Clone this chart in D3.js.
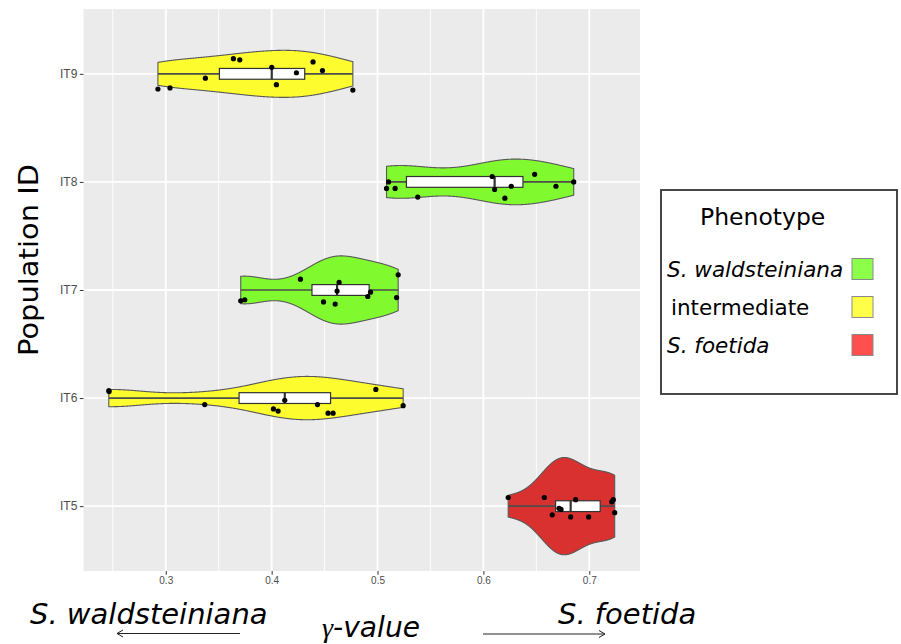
<!DOCTYPE html>
<html>
<head>
<meta charset="utf-8">
<script src="https://cdn.jsdelivr.net/npm/d3@7"></script>
<style>
  body { margin: 0; background: #fff; }
  svg { display: block; }
</style>
</head>
<body>
<svg id="chart" width="901" height="644"></svg>
<script>
// Populations, top to bottom, and their phenotype class
const populations = ["IT9", "IT8", "IT7", "IT6", "IT5"];
const populationPhenotype = ["intermediate", "S. waldsteiniana", "S. waldsteiniana", "intermediate", "S. foetida"];

// gamma-values per population (11 plants each) and the vertical jitter of each dot (category units)
const gammaIT9 = [0.2926, 0.3040, 0.3374, 0.3639, 0.3699, 0.4001, 0.4045, 0.4234, 0.4391, 0.4480, 0.4767];
const jitterIT9 = [-0.14, -0.13, -0.04, 0.14, 0.13, 0.06, -0.10, 0.01, 0.11, 0.03, -0.15];
const gammaIT8 = [0.5104, 0.5085, 0.5166, 0.5380, 0.6083, 0.6106, 0.6203, 0.6263, 0.6484, 0.6685, 0.6853];
const jitterIT8 = [0.00, -0.06, -0.06, -0.14, 0.05, -0.07, -0.15, -0.04, 0.07, -0.04, 0.00];
const gammaIT7 = [0.3708, 0.3746, 0.4272, 0.4490, 0.4600, 0.4618, 0.4637, 0.4908, 0.4934, 0.5180, 0.5195];
const jitterIT7 = [-0.10, -0.09, 0.10, -0.11, -0.13, -0.01, 0.07, -0.06, -0.02, -0.07, 0.14];
const gammaIT6 = [0.2462, 0.2465, 0.3368, 0.4017, 0.4061, 0.4124, 0.4433, 0.4533, 0.4580, 0.4984, 0.5242];
const jitterIT6 = [0.07, 0.06, -0.06, -0.10, -0.12, -0.02, -0.06, -0.14, -0.14, 0.08, -0.07];
const gammaIT5 = [0.6234, 0.6575, 0.6650, 0.6714, 0.6733, 0.6824, 0.6871, 0.6994, 0.7212, 0.7227, 0.7240];
const jitterIT5 = [0.08, 0.08, -0.08, -0.02, -0.03, -0.10, 0.06, -0.10, 0.04, 0.06, -0.06];

const gammaByPop = [gammaIT9, gammaIT8, gammaIT7, gammaIT6, gammaIT5];
const jitterByPop = [jitterIT9, jitterIT8, jitterIT7, jitterIT6, jitterIT5];

// Legend classes
const phenotypes = ["S. waldsteiniana", "intermediate", "S. foetida"];
const phenotypeItalic = [true, false, true];
const violinFill = ["#80f92f", "#fcfc2e", "#d93030"];
const legendFill = ["#8cff4a", "#ffff4a", "#ff4f4f"];

// Axis ticks
const xMajorTicks = [0.3, 0.4, 0.5, 0.6, 0.7];
const xMinorTicks = [0.25, 0.35, 0.45, 0.55, 0.65, 0.75];

// ---- layout ----
const panel = { left: 83.5, right: 640, top: 9, bottom: 571 };
const svg = d3.select("#chart");

const allValues = gammaByPop.flat();
const [vmin, vmax] = d3.extent(allValues);
const pad = (vmax - vmin) * 0.05;
const x = d3.scaleLinear().domain([vmin - pad, vmax + pad]).range([panel.left, panel.right]);
const y = d3.scalePoint().domain(populations).range([panel.top, panel.bottom]).padding(0.6);
const step = y.step();
const fillOf = p => violinFill[phenotypes.indexOf(p)];

// panel background and grid
svg.append("rect")
  .attr("x", panel.left).attr("y", panel.top)
  .attr("width", panel.right - panel.left).attr("height", panel.bottom - panel.top)
  .attr("fill", "#ebebeb");

const grid = svg.append("g");
grid.selectAll(".minor").data(xMinorTicks.filter(t => x(t) > panel.left && x(t) < panel.right)).join("line")
  .attr("x1", d => x(d)).attr("x2", d => x(d))
  .attr("y1", panel.top).attr("y2", panel.bottom)
  .attr("stroke", "#fff").attr("stroke-width", 0.9);
grid.selectAll(".major").data(xMajorTicks).join("line")
  .attr("x1", d => x(d)).attr("x2", d => x(d))
  .attr("y1", panel.top).attr("y2", panel.bottom)
  .attr("stroke", "#fff").attr("stroke-width", 1.8);
grid.selectAll(".hmajor").data(populations).join("line")
  .attr("x1", panel.left).attr("x2", panel.right)
  .attr("y1", d => y(d)).attr("y2", d => y(d))
  .attr("stroke", "#fff").attr("stroke-width", 1.8);

// ---- violin densities (gaussian kernel, Silverman bandwidth, trimmed to data range) ----
function bandwidth(vals) {
  const s = vals.slice().sort(d3.ascending);
  const sd = d3.deviation(s);
  const iqr = d3.quantile(s, 0.75) - d3.quantile(s, 0.25);
  const lo = Math.min(sd, iqr / 1.34);
  return 0.9 * lo * Math.pow(s.length, -0.2);
}
function density(vals) {
  const bw = bandwidth(vals);
  const [a, b] = d3.extent(vals);
  const n = 512;
  const pts = [];
  for (let i = 0; i < n; i++) {
    const g = a + (b - a) * i / (n - 1);
    let sum = 0;
    for (const v of vals) {
      const u = (g - v) / bw;
      sum += Math.exp(-0.5 * u * u);
    }
    pts.push([g, sum / (vals.length * bw * Math.sqrt(2 * Math.PI))]);
  }
  return pts;
}
const densities = gammaByPop.map(density);
const maxDensity = d3.max(densities, d => d3.max(d, p => p[1]));
const halfWidth = d3.scaleLinear().domain([0, maxDensity]).range([0, 0.45 * step]);

const violins = svg.append("g");
populations.forEach((pop, i) => {
  const cy = y(pop);
  const area = d3.area()
    .x(p => x(p[0]))
    .y0(p => cy - halfWidth(p[1]))
    .y1(p => cy + halfWidth(p[1]));
  violins.append("path")
    .attr("d", area(densities[i]))
    .attr("fill", fillOf(populationPhenotype[i]))
    .attr("stroke", "#595959")
    .attr("stroke-width", 1.1);
});

// ---- boxplots ----
const boxes = svg.append("g");
populations.forEach((pop, i) => {
  const s = gammaByPop[i].slice().sort(d3.ascending);
  const q1 = d3.quantile(s, 0.25), med = d3.quantile(s, 0.5), q3 = d3.quantile(s, 0.75);
  const iqr = q3 - q1;
  const wLo = d3.min(s.filter(v => v >= q1 - 1.5 * iqr));
  const wHi = d3.max(s.filter(v => v <= q3 + 1.5 * iqr));
  const cy = y(pop), bh = 0.05 * step;
  boxes.append("line")
    .attr("x1", x(wLo)).attr("x2", x(wHi)).attr("y1", cy).attr("y2", cy)
    .attr("stroke", "#4d4d4d").attr("stroke-width", 1.6);
  boxes.append("rect")
    .attr("x", x(q1)).attr("y", cy - bh)
    .attr("width", x(q3) - x(q1)).attr("height", 2 * bh)
    .attr("fill", "#fff").attr("stroke", "#333").attr("stroke-width", 1.2);
  boxes.append("line")
    .attr("x1", x(med)).attr("x2", x(med)).attr("y1", cy - bh).attr("y2", cy + bh)
    .attr("stroke", "#333").attr("stroke-width", 2.2);
});

// ---- jittered plants ----
const dots = svg.append("g");
populations.forEach((pop, i) => {
  dots.selectAll(null).data(gammaByPop[i].map((v, j) => [v, jitterByPop[i][j]])).join("circle")
    .attr("cx", d => x(d[0]))
    .attr("cy", d => y(pop) - d[1] * step)
    .attr("r", 2.6)
    .attr("fill", "#000");
});

// ---- axes ----
const xAxis = svg.append("g")
  .attr("transform", `translate(0,${panel.bottom})`)
  .call(d3.axisBottom(x).tickValues(xMajorTicks).tickFormat(d3.format(".1f")).tickSize(3.7).tickPadding(2));
xAxis.select(".domain").remove();
xAxis.selectAll("line").attr("stroke", "#333").attr("stroke-width", 1);
xAxis.selectAll("text").attr("fill", "#4d4d4d")
  .style("font-family", "'Liberation Sans', Arial, sans-serif").style("font-size", "10px");

const yAxis = svg.append("g")
  .attr("transform", `translate(${panel.left},0)`)
  .call(d3.axisLeft(y).tickSize(3.7).tickPadding(2.5));
yAxis.select(".domain").remove();
yAxis.selectAll("line").attr("stroke", "#333").attr("stroke-width", 1);
yAxis.selectAll("text").attr("fill", "#4d4d4d")
  .style("font-family", "'Liberation Sans', Arial, sans-serif").style("font-size", "12px");

// axis titles
const sans = "'DejaVu Sans', Verdana, sans-serif";
svg.append("text")
  .attr("transform", `translate(38,${(panel.top + panel.bottom) / 2 - 30}) rotate(-90)`)
  .attr("text-anchor", "middle")
  .attr("textLength", 192).attr("lengthAdjust", "spacingAndGlyphs")
  .style("font-family", sans).style("font-size", "27px").attr("fill", "#000")
  .text("Population ID");

svg.append("text")
  .attr("x", 30).attr("y", 624)
  .style("font-family", sans).style("font-size", "29px").style("font-style", "italic")
  .text("S. waldsteiniana");
svg.append("text")
  .attr("x", 558).attr("y", 624)
  .style("font-family", sans).style("font-size", "29px").style("font-style", "italic")
  .text("S. foetida");
const gammaTitle = svg.append("text")
  .attr("x", 322).attr("y", 637)
  .attr("textLength", 98).attr("lengthAdjust", "spacingAndGlyphs")
  .style("font-size", "28px").style("font-style", "italic");
gammaTitle.append("tspan").style("font-family", "'Liberation Serif', 'Times New Roman', serif").text("γ");
gammaTitle.append("tspan").style("font-family", sans).text("-value");

// direction arrows
function arrow(x0, x1, yy) {
  const dir = Math.sign(x1 - x0);
  svg.append("line").attr("x1", x0).attr("x2", x1).attr("y1", yy).attr("y2", yy)
    .attr("stroke", "#222").attr("stroke-width", 1);
  svg.append("path")
    .attr("d", `M${x1 - dir * 6},${yy - 3.5}L${x1},${yy}L${x1 - dir * 6},${yy + 3.5}`)
    .attr("fill", "none").attr("stroke", "#222").attr("stroke-width", 1);
}
arrow(240, 117, 633.5);
arrow(483, 605, 634);

// ---- legend ----
const legend = svg.append("g");
legend.append("rect")
  .attr("x", 661).attr("y", 190).attr("width", 236).attr("height", 204)
  .attr("fill", "#fff").attr("stroke", "#333").attr("stroke-width", 1.8);
legend.append("text")
  .attr("x", 700).attr("y", 225)
  .style("font-family", sans).style("font-size", "23.5px")
  .text("Phenotype");
const legendRow = d3.scalePoint().domain(phenotypes).range([269, 345]);
phenotypes.forEach((p, i) => {
  const cy = legendRow(p);
  legend.append("text")
    .attr("x", phenotypeItalic[i] ? 667 : 671).attr("y", cy + 8)
    .style("font-family", sans).style("font-size", "21.5px")
    .style("font-style", phenotypeItalic[i] ? "italic" : "normal")
    .text(p);
  legend.append("rect")
    .attr("x", 852).attr("y", cy - 10.5).attr("width", 21).attr("height", 21)
    .attr("fill", legendFill[i]).attr("stroke", "#8a8a8a").attr("stroke-width", 1);
});
</script>
</body>
</html>
